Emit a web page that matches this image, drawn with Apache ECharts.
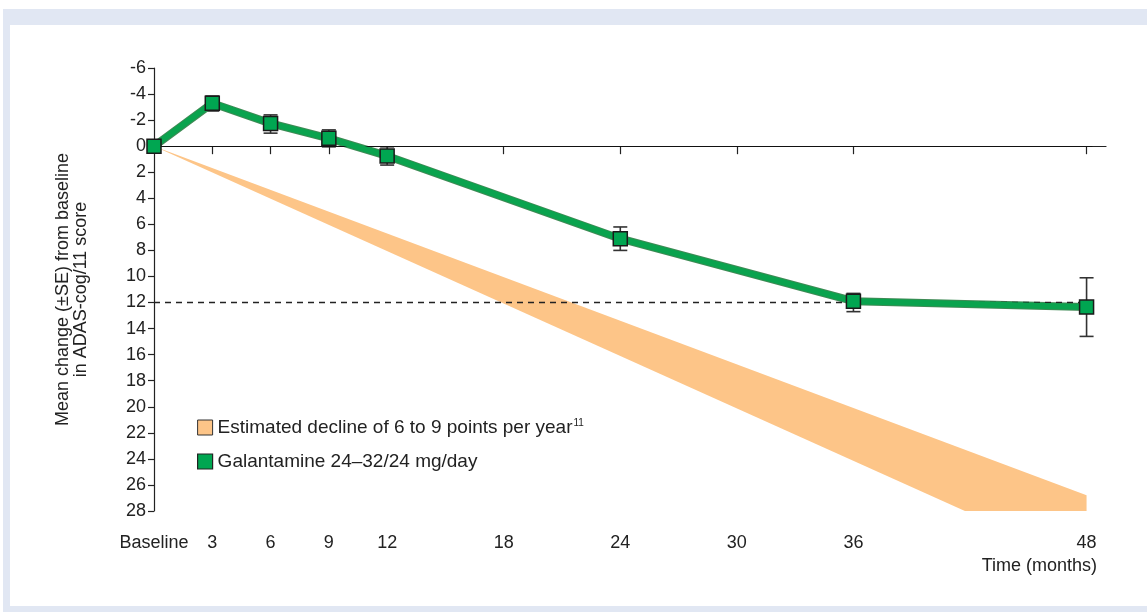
<!DOCTYPE html>
<html>
<head>
<meta charset="utf-8">
<script src="https://cdn.jsdelivr.net/npm/echarts@6/dist/echarts.min.js"></script>
<style>
html,body{margin:0;padding:0;background:#fff;}
#frame{position:absolute;left:3px;top:9px;width:1144px;height:603px;background:#e1e7f3;}
#inner{position:absolute;left:7px;top:16px;right:0;bottom:6px;background:#fff;}
#chart{position:absolute;left:0;top:0;width:1147px;height:612px;}
</style>
</head>
<body>
<div id="frame"><div id="inner"></div></div>
<div id="chart"></div>
<script>
var FONT = '"Liberation Sans",Arial,Helvetica,sans-serif';

// x ticks (months)
var tickMonths = [0, 3, 6, 9, 12, 18, 24, 30, 36, 48];

// galantamine mean change and SE bars
var galMonths = [0, 3, 6, 9, 12, 24, 36, 48];
var galMean = [0, -3.3, -1.75, -0.6, 0.75, 7.1, 11.9, 12.35];
var seLow = [0, -3.85, -2.4, -1.25, 0.05, 6.2, 11.3, 10.1];
var seHigh = [0, -2.7, -1.0, 0.05, 1.45, 8.0, 12.7, 14.6];

// estimated decline band (edges)
var declineMonths = [0, 48];
var declineSlow = [0, 26.8];
var declineFast = [0, 32.2];

var nameBand = 'Estimated decline of 6 to 9 points per year';
var nameGal = 'Galantamine 24\u201332/24 mg/day';

function pairs(xs, ys){
	var out = [];
	for(var i=0;i<xs.length;i++){
		out.push([xs[i], ys[i]]);
	}
	return out;
}

var seData = [];
for(var i=0;i<galMonths.length;i++){
	if(galMonths[i] === 0) continue;
	seData.push([galMonths[i], seLow[i], seHigh[i]]);
}

var bandData = [];
for(var j=1;j<declineMonths.length;j++){
	bandData.push([declineMonths[j-1], declineMonths[j], declineSlow[j-1], declineSlow[j], declineFast[j-1], declineFast[j]]);
}

var myChart = echarts.init(document.getElementById('chart'));
var option = {
	animation:false,
	textStyle:{fontFamily:FONT},
	grid:{left:154,right:41,top:68,bottom:101},
	legend:{
		orient:'vertical',
		left:192,
		top:413,
		itemWidth:15,
		itemHeight:15,
		itemGap:15,
		selectedMode:false,
		data:[
			{name:nameBand,icon:'rect',itemStyle:{color:'#fdc588',borderColor:'#333',borderWidth:1}},
			{name:nameGal,icon:'rect',itemStyle:{color:'#00a651',borderColor:'#222',borderWidth:1.2}}
		],
		formatter:function(name){
			if(name === nameBand){
				return '{t|'+name+'}{s|11}';
			}
			return '{t|'+name+'}';
		},
		textStyle:{
			color:'#222',
			fontFamily:FONT,
			rich:{
				t:{fontSize:19,fontFamily:FONT,color:'#222'},
				s:{fontSize:10,fontFamily:FONT,color:'#222',verticalAlign:'top',padding:[0,0,9,1]}
			}
		}
	},
	xAxis:{
		type:'value',
		min:0,
		max:49,
		splitLine:{show:false},
		axisLine:{lineStyle:{color:'#222',width:1.2}},
		axisTick:{show:true,length:8,customValues:tickMonths,lineStyle:{color:'#222',width:1.2}},
		axisLabel:{
			customValues:tickMonths,
			margin:23,
			fontSize:18,
			color:'#222',
			fontFamily:FONT,
			formatter:function(v){
				return v === 0 ? 'Baseline' : String(v);
			}
		}
	},
	yAxis:{
		type:'value',
		inverse:true,
		min:-6,
		max:28,
		interval:2,
		name:'Mean change (\u00b1SE) from baseline\nin ADAS-cog/11 score',
		nameLocation:'middle',
		nameRotate:90,
		nameGap:64,
		nameTextStyle:{fontSize:18,lineHeight:18,color:'#222',fontFamily:FONT},
		splitLine:{show:false},
		axisLine:{show:true,lineStyle:{color:'#222',width:1.2}},
		axisTick:{show:true,length:6,lineStyle:{color:'#222',width:1.2}},
		axisLabel:{fontSize:18,margin:8,color:'#222',fontFamily:FONT}
	},
	graphic:[
		{type:'text',right:50,top:557,style:{text:'Time (months)',font:'18px '+FONT,fill:'#222'}}
	],
	series:[
		{
			name:nameBand,
			type:'custom',
			clip:true,
			silent:true,
			z:1,
			itemStyle:{color:'#fdc588'},
			renderItem:function(params, api){
				var p1 = api.coord([api.value(0), api.value(2)]);
				var p2 = api.coord([api.value(1), api.value(3)]);
				var p3 = api.coord([api.value(1), api.value(5)]);
				var p4 = api.coord([api.value(0), api.value(4)]);
				return {type:'polygon',shape:{points:[p1,p2,p3,p4]},style:{fill:'#fdc588'}};
			},
			data:bandData,
			markLine:{
				silent:true,
				symbol:'none',
				label:{show:false},
				lineStyle:{color:'#111',width:1.2,type:'solid'},
				data:[[{coord:[0,0]},{coord:[48.3,0]}]]
			}
		},
		{
			name:'se',
			type:'custom',
			z:3,
			renderItem:function(params, api){
				var x = api.value(0);
				var a = api.coord([x, api.value(1)]);
				var b = api.coord([x, api.value(2)]);
				var w = 7;
				var st = {stroke:'#333',lineWidth:1.6};
				return {type:'group',children:[
					{type:'line',shape:{x1:a[0],y1:a[1],x2:b[0],y2:b[1]},style:st},
					{type:'line',shape:{x1:a[0]-w,y1:a[1],x2:a[0]+w,y2:a[1]},style:st},
					{type:'line',shape:{x1:b[0]-w,y1:b[1],x2:b[0]+w,y2:b[1]},style:st}
				]};
			},
			data:seData
		},
		{
			name:'edge',
			type:'line',
			data:pairs(galMonths, galMean),
			symbol:'none',
			lineStyle:{color:'#3f8a55',width:8},
			silent:true,
			z:4
		},
		{
			name:nameGal,
			type:'line',
			data:pairs(galMonths, galMean),
			symbol:'rect',
			symbolSize:14,
			lineStyle:{color:'#0aa34e',width:6},
			itemStyle:{color:'#00a651',borderColor:'#1a1a1a',borderWidth:1.5},
			z:5
		},
		{
			name:'ref',
			type:'line',
			data:[],
			z:6,
			markLine:{
				silent:true,
				symbol:'none',
				label:{show:false},
				lineStyle:{color:'#222',width:1.4,type:[6,5]},
				data:[[{coord:[0,12]},{coord:[48,12]}]]
			}
		}
	]
};
myChart.setOption(option);
</script>
</body>
</html>
